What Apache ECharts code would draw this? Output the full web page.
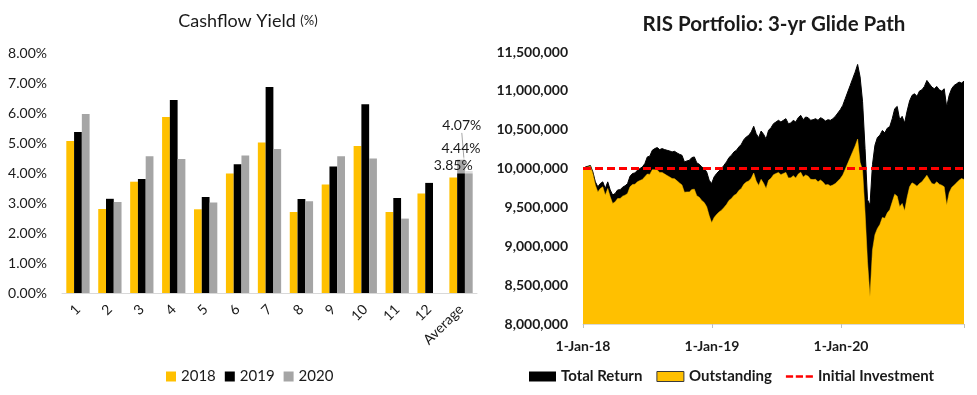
<!DOCTYPE html>
<html>
<head>
<meta charset="utf-8">
<script src="https://cdn.jsdelivr.net/npm/echarts@6/dist/echarts.min.js"></script>
<style>
html,body{margin:0;padding:0;background:#fff;}
#chart{width:977px;height:395px;}
</style>
</head>
<body>
<div id="chart"></div>
<script>
// ---------- Left chart: Cashflow Yield (%) ----------
const months = ['1','2','3','4','5','6','7','8','9','10','11','12','Average'];
const y2018 = [5.07, 2.80, 3.71, 5.87, 2.79, 3.98, 5.02, 2.70, 3.62, 4.90, 2.70, 3.32, 3.85];
const y2019 = [5.37, 3.14, 3.80, 6.43, 3.20, 4.29, 6.87, 3.13, 4.22, 6.29, 3.17, 3.67, 4.44];
const y2020 = [5.97, 3.03, 4.56, 4.47, 3.02, 4.58, 4.80, 3.06, 4.56, 4.48, 2.48, null, 4.07];
const yieldTicks = [0, 8, 1];

// ---------- Right chart: RIS Portfolio (values in thousands, weekly from 1-Jan-18) ----------
const weekStepDays = 7;
const totalReturn = [
10000,10021,10030,10039,9957,9829,9765,9807,9829,9743,
9829,9725,9660,9680,9725,9728,9760,9778,9805,9900,
9936,9944,9979,10000,10021,10064,10150,10160,10235,10257,
10270,10244,10257,10244,10235,10227,10214,10222,10201,10184,
10171,10086,10098,10107,10141,10150,10073,10056,10021,10000,
9957,9850,9807,9893,9936,9970,10000,10043,10086,10141,
10171,10214,10235,10278,10312,10372,10407,10428,10471,10544,
10449,10398,10483,10441,10380,10492,10526,10578,10599,10621,
10599,10621,10642,10578,10586,10621,10599,10655,10685,10629,
10664,10655,10621,10629,10642,10621,10655,10638,10612,10629,
10621,10642,10672,10715,10758,10813,10899,10985,11070,11156,
11241,11340,11180,10860,10260,9600,9530,10050,10300,10400,
10430,10490,10460,10520,10540,10642,10770,10800,10629,10672,
10586,10740,10869,10942,10963,10929,10997,11014,11057,11134,
11091,11049,11027,11057,11014,10997,11027,10792,10942,11027,
11070,11091,11113,11100,11125
];
const outstanding = [
10000,10013,10021,10030,9936,9786,9700,9743,9765,9658,
9743,9636,9551,9572,9615,9615,9645,9658,9679,9765,
9795,9798,9830,9845,9860,9895,9930,9925,9985,9985,
9983,9950,9950,9930,9910,9893,9872,9870,9842,9815,
9790,9695,9700,9700,9730,9735,9650,9630,9590,9562,
9510,9395,9302,9370,9410,9440,9465,9500,9538,9590,
9615,9655,9672,9718,9745,9798,9826,9840,9876,9943,
9841,9783,9861,9812,9744,9849,9876,9921,9936,9951,
9922,9937,9951,9880,9881,9909,9880,9929,9953,9890,
9918,9902,9861,9859,9861,9830,9853,9826,9789,9796,
9777,9788,9807,9840,9872,9917,9992,10068,10142,10218,
10292,10380,10080,9980,9440,8800,8350,8950,9150,9230,
9280,9370,9360,9430,9470,9572,9670,9645,9508,9551,
9456,9627,9765,9816,9799,9773,9807,9829,9872,9914,
9859,9807,9799,9829,9799,9786,9765,9529,9688,9756,
9786,9816,9850,9872,9859
];
const initialInvestment = 10000;
const valueTicks = [8000, 11500, 500];
const yearLabels = ['1-Jan-18', '1-Jan-19', '1-Jan-20'];
const daysPerYear = 365;

const FONT = 'Lato';
const TXT = '#1a1a1a';

const lastDay = (totalReturn.length - 1) * weekStepDays;
const trData = totalReturn.map((v, i) => [i * weekStepDays, v]);
const osData = outstanding.map((v, i) => [i * weekStepDays, v]);

function withAvgLabel(arr) {
  return arr.map((v, i) => i === arr.length - 1 ? { value: v, label: { show: true } } : v);
}
const pctLabel = {
  show: false, position: 'top', distance: 4,
  fontFamily: FONT, fontSize: 14, color: TXT,
  formatter: p => p.value.toFixed(2) + '%'
};

const chart = echarts.init(document.getElementById('chart'), null, { renderer: 'canvas' });
chart.setOption({
  animation: false,
  textStyle: { fontFamily: FONT },
  title: [
    {
      text: '{a|Cashflow Yield }{b|(%)}',
      left: 243, top: 7, textAlign: 'center',
      textStyle: { fontWeight: 'normal', rich: {
        a: { fontFamily: FONT, fontSize: 18, fontWeight: 'normal', color: TXT },
        b: { fontFamily: FONT, fontSize: 13, fontWeight: 'normal', color: TXT }
      } }
    },
    {
      text: 'RIS Portfolio: 3-yr Glide Path',
      left: 769, top: 9, textAlign: 'center',
      textStyle: { fontFamily: FONT, fontSize: 20.5, fontWeight: 'bold', color: TXT }
    }
  ],
  legend: [
    {
      data: ['2018', '2019', '2020'],
      left: 161, top: 364, icon: 'rect', itemWidth: 10, itemHeight: 10, itemGap: 9,
      textStyle: { fontFamily: FONT, fontSize: 15, color: TXT }
    },
    {
      data: [
        { name: 'Total Return', icon: 'rect' },
        { name: 'Outstanding', icon: 'rect', itemStyle: { borderColor: '#3a3a3a', borderWidth: 1 } },
        { name: 'Initial Investment', icon: 'path://M0,0h8v3h-8z M11,0h8v3h-8z M22,0h8v3h-8z' }
      ],
      left: 524, top: 364, itemWidth: 27, itemHeight: 10, itemGap: 14,
      textStyle: { fontFamily: FONT, fontSize: 15, fontWeight: 'bold', color: TXT }
    }
  ],
  grid: [
    { left: 62, width: 415, top: 53, bottom: 102 },
    { left: 583, right: 13, top: 52, bottom: 71 }
  ],
  xAxis: [
    {
      gridIndex: 0, type: 'category', data: months,
      axisLine: { show: true, lineStyle: { color: '#d9d9d9', width: 1 } },
      axisTick: { show: false },
      axisLabel: { interval: 0, rotate: 45, margin: 14, fontFamily: FONT, fontSize: 14, color: TXT }
    },
    {
      gridIndex: 1, type: 'value', min: 0, max: lastDay, interval: daysPerYear,
      splitLine: { show: false },
      axisLine: { show: true, lineStyle: { color: '#d9d9d9', width: 1 } },
      axisTick: { show: true, length: 4, lineStyle: { color: '#bfbfbf' } },
      axisLabel: {
        margin: 15, fontFamily: FONT, fontSize: 14, fontWeight: 'bold', color: TXT,
        formatter: v => (v % daysPerYear === 0 && v / daysPerYear < yearLabels.length) ? yearLabels[v / daysPerYear] : ''
      }
    }
  ],
  yAxis: [
    {
      gridIndex: 0, type: 'value', min: yieldTicks[0], max: yieldTicks[1], interval: yieldTicks[2],
      splitLine: { show: false }, axisLine: { show: false }, axisTick: { show: false },
      axisLabel: { margin: 15, fontFamily: FONT, fontSize: 14, color: TXT, formatter: v => v.toFixed(2) + '%' }
    },
    {
      gridIndex: 1, type: 'value', min: valueTicks[0], max: valueTicks[1], interval: valueTicks[2],
      splitLine: { show: false }, axisLine: { show: false }, axisTick: { show: false },
      axisLabel: { margin: 15, fontFamily: FONT, fontSize: 14, fontWeight: 'bold', color: TXT,
        formatter: v => (v * 1000).toLocaleString('en-US') }
    }
  ],
  series: [
    {
      name: '2018', type: 'bar', xAxisIndex: 0, yAxisIndex: 0,
      barGap: '0%', barCategoryGap: '27%',
      itemStyle: { color: '#FFC000' },
      label: Object.assign({}, pctLabel, { backgroundColor: 'rgba(255,255,255,0.65)', padding: [1, 1] }),
      data: withAvgLabel(y2018)
    },
    {
      name: '2019', type: 'bar', xAxisIndex: 0, yAxisIndex: 0,
      barGap: '0%', barCategoryGap: '27%',
      itemStyle: { color: '#000000' },
      label: Object.assign({}, pctLabel),
      data: withAvgLabel(y2019)
    },
    {
      name: '2020', type: 'bar', xAxisIndex: 0, yAxisIndex: 0,
      barGap: '0%', barCategoryGap: '27%',
      itemStyle: { color: '#A5A5A5' },
      label: Object.assign({}, pctLabel),
      labelLayout: { dx: -7, dy: -34 },
      labelLine: { show: true, lineStyle: { color: '#a6a6a6', width: 1 } },
      data: withAvgLabel(y2020)
    },
    {
      name: 'Total Return', type: 'line', xAxisIndex: 1, yAxisIndex: 1,
      symbol: 'none', showSymbol: false,
      itemStyle: { color: '#000000' },
      lineStyle: { color: '#000000', width: 1 },
      areaStyle: { color: '#000000', opacity: 1 },
      data: trData
    },
    {
      name: 'Outstanding', type: 'line', xAxisIndex: 1, yAxisIndex: 1,
      symbol: 'none', showSymbol: false,
      itemStyle: { color: '#FFC000' },
      lineStyle: { color: '#FFC000', width: 0.5 },
      areaStyle: { color: '#FFC000', opacity: 1 },
      data: osData
    },
    {
      name: 'Initial Investment', type: 'line', xAxisIndex: 1, yAxisIndex: 1,
      symbol: 'none', showSymbol: false,
      itemStyle: { color: '#FF0000' },
      lineStyle: { color: '#FF0000', width: 3, type: [8, 4] },
      data: [[0, initialInvestment], [lastDay, initialInvestment]]
    }
  ]
});
</script>
</body>
</html>
